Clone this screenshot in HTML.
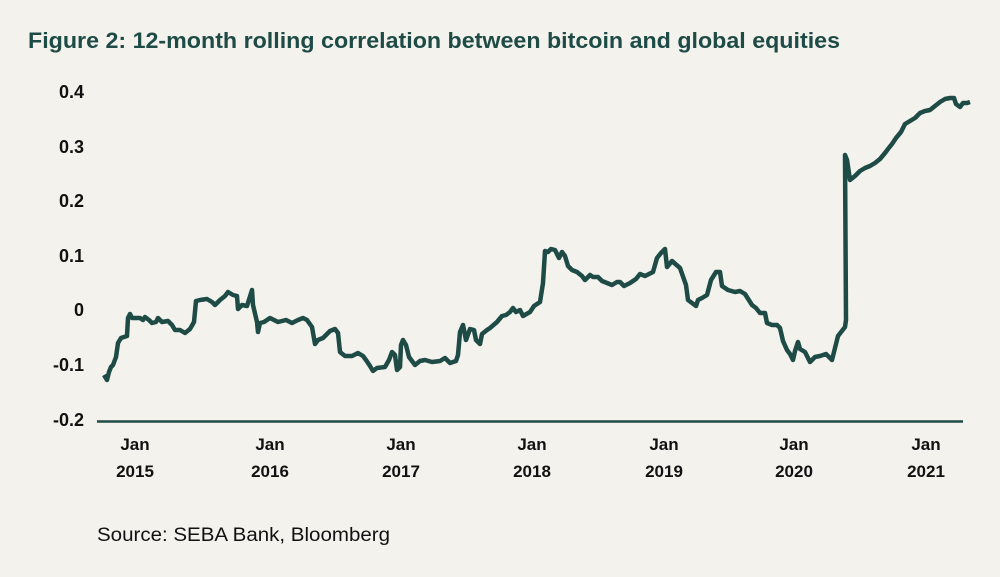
<!DOCTYPE html>
<html><head><meta charset="utf-8"><style>
body{margin:0;background:#f4f2ed;}
svg{display:block;font-family:"Liberation Sans",sans-serif;}
</style></head><body>
<svg width="1000" height="577" viewBox="0 0 1000 577">
<rect width="1000" height="577" fill="#f4f2ed"/>
<text x="28" y="48" font-size="22" font-weight="bold" fill="#1e4b46" textLength="812" lengthAdjust="spacingAndGlyphs">Figure 2: 12-month rolling correlation between bitcoin and global equities</text>
<g font-size="18" font-weight="bold" fill="#111" text-anchor="end">
<text x="84" y="98">0.4</text><text x="84" y="153">0.3</text><text x="84" y="207">0.2</text>
<text x="84" y="262">0.1</text><text x="84" y="316">0</text><text x="84" y="371">-0.1</text><text x="84" y="426">-0.2</text>
</g>
<line x1="97" y1="421.5" x2="963" y2="421.5" stroke="#1e4b46" stroke-width="2.5"/>
<g font-size="17" font-weight="bold" fill="#111" text-anchor="middle">
<text x="135" y="450">Jan</text><text x="135" y="477">2015</text>
<text x="270" y="450">Jan</text><text x="270" y="477">2016</text>
<text x="401" y="450">Jan</text><text x="401" y="477">2017</text>
<text x="532" y="450">Jan</text><text x="532" y="477">2018</text>
<text x="664" y="450">Jan</text><text x="664" y="477">2019</text>
<text x="794" y="450">Jan</text><text x="794" y="477">2020</text>
<text x="926" y="450">Jan</text><text x="926" y="477">2021</text>
</g>
<polyline fill="none" stroke="#1e4b46" stroke-width="4.5" stroke-linejoin="round" points="104,375 107,380 109,372 111,367 113,365 116,357 118,343 121,338 127,336 128,318 130,314 132,318 140,318 143,320 145,317 149,320 152,323 156,322 158,318 162,322 168,321 172,325 175,330 180,330 185,333 190,329 194,322 196,301 200,300 207,299 212,302 215,305 220,300 225,296 228,292 233,295 237,296 238,309 242,305 247,306 252,290 253,305 257,322 258,332 260,323 264,322 270,318 278,322 286,320 292,323 298,320 303,318 307,320 312,327 315,344 318,340 323,338 330,331 335,329 338,333 340,352 345,356 352,356 358,353 363,356 366,360 370,366 373,371 377,368 385,367 389,360 392,352 395,355 397,370 400,367 401,345 403,340 406,345 409,357 412,361 415,365 420,361 425,360 432,362 440,361 445,358 450,363 456,361 458,355 460,332 463,325 466,340 470,329 474,330 476,340 480,344 482,334 487,330 490,328 497,322 502,316 506,315 510,312 513,308 516,312 520,310 523,316 530,312 534,306 540,302 543,283 545,251 548,252 551,249 555,250 559,258 562,252 565,256 568,266 572,270 577,272 582,276 585,280 590,275 593,277 598,277 602,281 607,283 612,285 617,282 620,282 624,286 630,283 636,279 640,274 645,276 653,272 657,258 661,253 665,249 667,267 672,261 680,268 686,285 688,300 692,303 696,306 698,300 702,298 707,295 711,280 716,272 720,272 722,286 728,290 735,292 740,291 745,294 752,305 756,308 760,313 765,313 767,323 772,325 777,325 780,328 783,341 787,350 790,354 793,360 795,351 798,342 800,349 805,352 810,362 815,357 820,356 826,354 832,360 838,336 845,327 846,320 845,155 847,160 850,180 855,176 860,171 865,168 870,166 875,163 880,159 885,153 888,149 892,144 896,138 901,132 905,124 910,121 915,118 920,113 925,111 930,110 935,106 940,102 945,99 950,98 954,98 956,104 960,107 963,103 967,103 970,102"/>
<text x="97" y="541" font-size="19" fill="#111" textLength="293" lengthAdjust="spacingAndGlyphs">Source: SEBA Bank, Bloomberg</text>
</svg>
</body></html>
